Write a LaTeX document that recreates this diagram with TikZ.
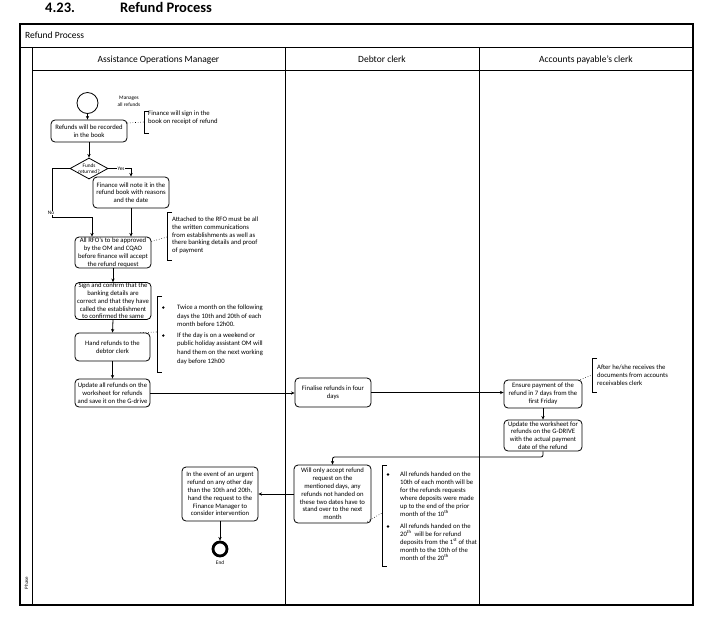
\documentclass[tikz,border=0pt]{standalone}
\usepackage{fontspec}
\setmainfont{Carlito}
\usetikzlibrary{arrows.meta,shapes.geometric}
\newcommand{\bxfont}{\fontsize{6.7}{7.8}\selectfont}
\begin{document}
\begin{tikzpicture}[x=1pt,y=-1pt,
  box/.style={draw,rounded corners=4pt,line width=0.8pt,align=center,font=\bxfont,inner sep=0.5pt},
  arr/.style={-{Stealth[length=3.6pt,width=3.2pt]},line width=0.8pt},
  note/.style={anchor=north west,align=left,inner sep=0pt},
  brk/.style={line width=0.8pt},
  dots/.style={dotted,line width=0.6pt},
  frame/.style={line width=0.8pt},
  small/.style={font=\fontsize{5.3}{6.4}\selectfont,inner sep=0pt,align=center}
]
\useasboundingbox (0,0) rectangle (717,622);

% title
\node[anchor=base west,inner sep=0pt,font=\fontsize{14.5}{16}\selectfont\bfseries] (tnum) at (45,12) {4.23.};
\node[anchor=base west,inner sep=0pt,font=\fontsize{14.5}{16}\selectfont\bfseries] (ttitle) at (120,12) {Refund Process};

% pool frame
\draw[line width=1.2pt] (20,24) rectangle (693,605);
\draw[frame] (20,47) -- (693,47);
\draw[frame] (32,70) -- (693,70);
\draw[frame] (32,47) -- (32,605);
\draw[frame] (285,47) -- (285,605);
\draw[frame] (479,47) -- (479,605);
\node[anchor=base west,inner sep=0pt,font=\fontsize{9.5}{11}\selectfont] (pool) at (25,38.5) {Refund Process};
\node[anchor=base,inner sep=0pt,font=\fontsize{9.5}{11}\selectfont] (lane1) at (158.5,62) {Assistance Operations Manager};
\node[anchor=base,inner sep=0pt,font=\fontsize{9.5}{11}\selectfont] (lane2) at (382,62) {Debtor clerk};
\node[anchor=base,inner sep=0pt,font=\fontsize{9.5}{11}\selectfont] (lane3) at (586,62) {Accounts payable’s clerk};
\node[rotate=90,inner sep=0pt,font=\fontsize{5}{6}\selectfont] (phase) at (26.5,583) {Phase};

% AOM lane
\node[circle,draw,line width=0.8pt,minimum size=21pt,inner sep=0pt] (start) at (87.5,103) {};
\node[small] (mgr) at (129,101.5) {Manages\\all refunds};
\node[box,minimum width=76pt,minimum height=22pt] (rec) at (89,131) {Refunds will be recorded\\in the book};
\node[diamond,draw,line width=0.8pt,minimum width=38pt,minimum height=21pt,inner sep=0pt] (dia) at (89,168.5) {};
\node[small] (diat) at (dia.center) {Funds\\returned?};
\node[box,minimum width=76pt,minimum height=31pt] (fin) at (131,192.5) {Finance will note it in the\\refund book with reasons\\and the date};
\node[box,minimum width=76pt,minimum height=31pt] (rfo) at (113,252.5) {All RFO’s to be approved\\by the OM and CQAO\\before finance will accept\\the refund request};
\node[box,minimum width=76pt,minimum height=36pt] (sign) at (113,301) {Sign and confirm that the\\banking details are\\correct and that they have\\called the establishment\\to confirmed the same};
\node[box,minimum width=75pt,minimum height=28pt] (hand) at (112.5,347) {Hand refunds to the\\debtor clerk};
\node[box,minimum width=75pt,minimum height=28pt] (upd) at (112.5,393) {Update all refunds on the\\worksheet for refunds\\and save it on the G-drive};
\node[box,minimum width=76pt,minimum height=54pt] (urg) at (220,494) {In the event of an urgent\\refund on any other day\\than the 10th and 20th,\\hand the request to the\\Finance Manager to\\consider intervention};
\node[circle,draw,line width=2.8pt,minimum size=14pt,inner sep=0pt] (endc) at (220,549) {};
\node[small] (endt) at (220,563) {End};

% Debtor lane
\node[box,minimum width=76pt,minimum height=29pt] (finl) at (333,392.5) {Finalise refunds in four\\days};
\node[box,minimum width=77pt,minimum height=58pt] (acc) at (332.5,494) {Will only accept refund\\request on the\\mentioned days, any\\refunds not handed on\\these two dates have to\\stand over to the next\\month};

% AP lane
\node[box,minimum width=78pt,minimum height=28pt] (ens) at (543,394) {Ensure payment of the\\refund in 7 days from the\\first Friday};
\node[box,minimum width=78pt,minimum height=31pt] (updw) at (543,435.5) {Update the worksheet for\\refunds on the G-DRIVE\\with the actual payment\\date of the refund};

% annotations
\draw[brk] (149,111) -- (144,111) -- (144,133) -- (149,133);
\coordinate (b1) at (144,122);
\node[note,font=\fontsize{6.7}{8}\selectfont] (n1) at (148,110.5) {Finance will sign in the\\book on receipt of refund};

\draw[brk] (172,212) -- (167,212) -- (167,260) -- (172,260);
\coordinate (b2) at (167,237);
\node[note,font=\fontsize{6.7}{7.6}\selectfont] (n2) at (172,217) {Attached to the RFO must be all\\the written communications\\from establishments as well as\\there banking details and proof\\of payment};

\draw[brk] (162,296) -- (157,296) -- (157,372) -- (162,372);
\coordinate (b3) at (157,332);
\fill (163.3,307.5) circle (1.3pt);
\fill (163.3,335.5) circle (1.3pt);
\node[note,font=\fontsize{6.7}{8.8}\selectfont] (n3a) at (177,304.5) {Twice a month on the following\\days the 10th and 20th of each\\month before 12h00.};
\node[note,font=\fontsize{6.7}{8.6}\selectfont] (n3b) at (177,332.5) {If the day is on a weekend or\\public holiday assistant OM will\\hand them on the next working\\day before 12h00};

\draw[brk] (597,358) -- (592,358) -- (592,392) -- (597,392);
\coordinate (b4) at (592,375);
\node[note,font=\fontsize{6.7}{8}\selectfont] (n4) at (597,364.5) {After he/she receives the\\documents from accounts\\receivables clerk};

\draw[brk] (387,465) -- (382,465) -- (382,566) -- (387,566);
\coordinate (b5) at (382,513);
\fill (388,474.5) circle (1.3pt);
\fill (388,526.5) circle (1.3pt);
\node[note,font=\fontsize{6.7}{8}\selectfont] (n5a) at (400,471.5) {All refunds handed on the\\10th of each month will be\\for the refunds requests\\where deposits were made\\up to the end of the prior\\month of the 10\textsuperscript{th}};
\node[note,font=\fontsize{6.7}{8}\selectfont] (n5b) at (400,523.5) {All refunds handed on the\\20\textsuperscript{th}\ \ will be for refund\\deposits from the 1\textsuperscript{st} of that\\month to the 10th of the\\month of the 20\textsuperscript{th}};

% dotted associations
\draw[dots] ([yshift=8pt]rec.east) -- (b1);
\draw[dots] ([yshift=11pt]rfo.east) -- (b2);
\draw[dots] ([xshift=-10pt]hand.north east) -- (b3);
\draw[dots] ([xshift=-2pt]ens.north east) -- (b4);
\draw[dots] ([xshift=-4pt,yshift=2pt]acc.south east) -- (b5);

% flow
\draw[arr] (start.south) -- (start.south |- rec.north);
\draw[arr] (rec.south) -- (dia.north);
\draw[arr] (dia.east) -| node[pos=0.28,fill=white,small,inner sep=0.6pt] (yes) {Yes} (fin.north);
\coordinate (nocorner) at (52,217);
\draw[arr] (dia.west) -| (nocorner) -| ([xshift=-21pt]rfo.north);
\node[small,fill=white,inner sep=0.6pt] (nolab) at (51,213) {No};
\draw[arr] (fin.south) -- (fin.south |- rfo.north);
\draw[arr] (rfo.south) -- (sign.north);
\draw[arr] (sign.south) -- (hand.north);
\draw[arr] (hand.south) -- (upd.north);
\draw[arr] (upd.east) -- (upd.east -| finl.west);
\draw[arr] (finl.east) -- (finl.east -| ens.west);
\draw[arr] (ens.south) -- (updw.north);
\coordinate (turn) at (332.5,457);
\draw[arr,rounded corners=2pt] (updw.south) |- (turn) -- (acc.north);
\draw[arr] (acc.west) -- (urg.east);
\draw[arr] (urg.south) -- (endc.north);
\end{tikzpicture}
\end{document}
